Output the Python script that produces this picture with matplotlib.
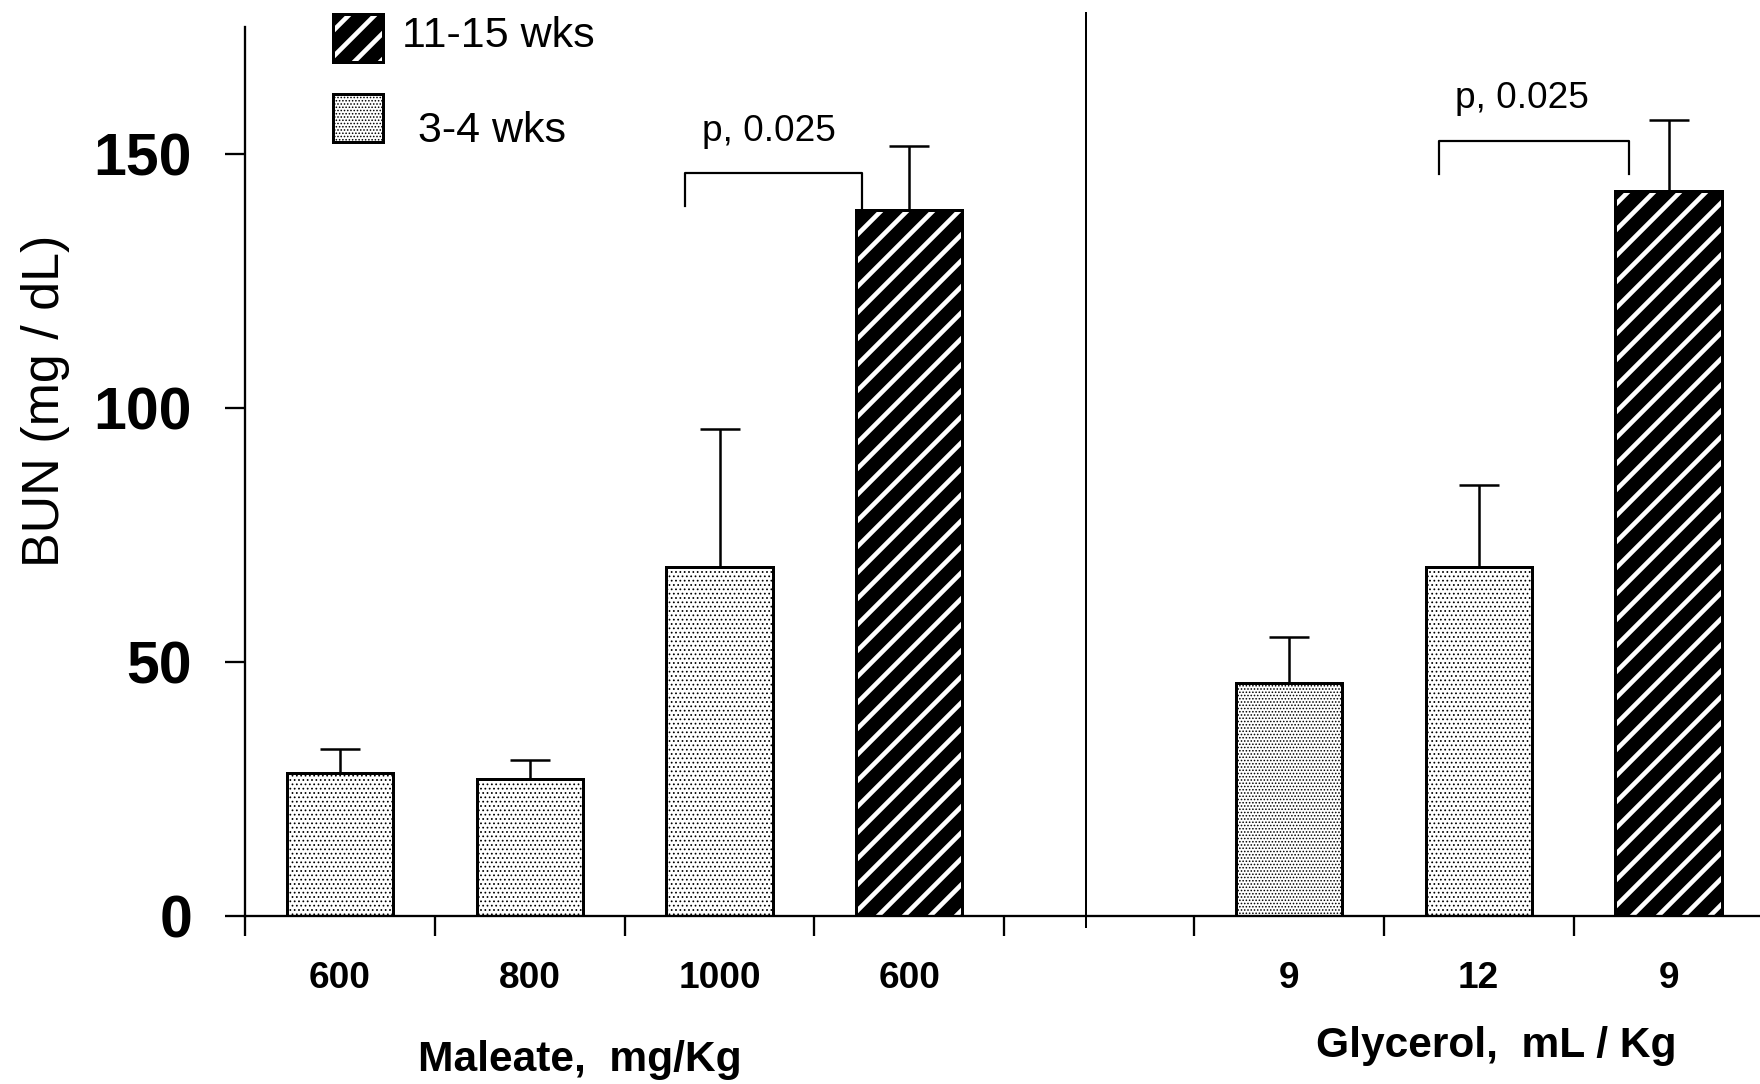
import matplotlib
matplotlib.use('Agg')
import matplotlib.pyplot as plt
import matplotlib.transforms as mtransforms
from matplotlib.patches import Rectangle
import numpy as np

plt.rcParams['font.family'] = ['Liberation Sans', 'DejaVu Sans']

DPI = 78
PX = 72 / DPI  # points per pixel

# data
maleate_doses = ['600', '800', '1000', '600']
maleate_bun = [28.1, 27.0, 68.7, 139.0]
maleate_sem = [4.8, 3.7, 27.2, 12.6]
maleate_age = ['3-4 wks', '3-4 wks', '3-4 wks', '11-15 wks']

glycerol_doses = ['9', '12', '9']
glycerol_bun = [45.8, 68.7, 142.8]
glycerol_sem = [9.2, 16.2, 13.9]
glycerol_age = ['3-4 wks', '3-4 wks', '11-15 wks']
glycerol_dense = [True, False, False]   # first glycerol bar has the tighter stipple

y_ticks = [0, 50, 100, 150]
p_label = 'p, 0.025'

BAR_W = 0.56
BAR_LW = 3 * PX
OLD = '11-15 wks'
STRIPE_LW = 4.6 * PX
DOT_LW = 1.0 * PX


def style_patch(p, age, dense=False):
    if age == OLD:
        p.set_facecolor('black')
        p.set_edgecolor('white')      # hatch takes the edge colour
        p.set_hatch('/')
        p.set_linewidth(0)
        if hasattr(p, 'set_hatch_linewidth'):
            p.set_hatch_linewidth(STRIPE_LW)
    else:
        p.set_facecolor('white')
        p.set_edgecolor('black')
        p.set_hatch('....' if dense else '...')
        p.set_linewidth(BAR_LW)
        if hasattr(p, 'set_hatch_linewidth'):
            p.set_hatch_linewidth(DOT_LW)


fig = plt.figure(figsize=(1760 / DPI, 1084 / DPI), dpi=DPI)
ax = fig.add_axes([245 / 1760, 1 - 916 / 1084, 1 - 245 / 1760, (916 - 27) / 1084])

x_m = np.arange(len(maleate_bun)) + 0.5
x_g = np.arange(len(glycerol_bun)) + 5.5
xs = np.concatenate([x_m, x_g])
vals = maleate_bun + glycerol_bun
sems = maleate_sem + glycerol_sem
ages = maleate_age + glycerol_age
dense = [False] * len(maleate_bun) + glycerol_dense

ax.errorbar(xs, vals, yerr=[np.zeros(len(vals)), sems], fmt='none', ecolor='black',
            elinewidth=2.5 * PX, capsize=20 * PX, capthick=2.5 * PX, zorder=1)

old = np.array([a == OLD for a in ages])
with plt.rc_context({'hatch.linewidth': DOT_LW}):
    bars = ax.bar(xs[~old], np.array(vals)[~old], width=BAR_W, zorder=2)
    for p, d in zip(bars.patches, np.array(dense)[~old]):
        style_patch(p, '3-4 wks', d)
with plt.rc_context({'hatch.linewidth': STRIPE_LW}):
    bars_old = ax.bar(xs[old], np.array(vals)[old], width=BAR_W, zorder=2)
    for p in bars_old.patches:
        style_patch(p, OLD)
ax.bar(xs[old], np.array(vals)[old], width=BAR_W, fill=False, edgecolor='black',
       linewidth=BAR_LW, zorder=3)

ax.set_xlim(0, 1515 / 189.8)
ax.set_ylim(0, 175)

for s in ['top', 'right']:
    ax.spines[s].set_visible(False)
for s in ['left', 'bottom']:
    ax.spines[s].set_linewidth(2.3 * PX)

ax.set_yticks(y_ticks, [str(v) for v in y_ticks], fontsize=59 * PX, fontweight='bold')
ax.tick_params(axis='y', length=20 * PX, width=2.3 * PX, pad=33 * PX)

ax.set_xticks(range(8), [''] * 8)
ax.tick_params(axis='x', which='major', length=20 * PX, width=2.3 * PX)
ax.set_xticks(xs, maleate_doses + glycerol_doses, minor=True,
              fontsize=37 * PX, fontweight='bold')
ax.tick_params(axis='x', which='minor', length=0, pad=45 * PX)

# separator between the two experiments
ax.plot([4.43, 4.43], [-2.2, 177.8], color='black', lw=2 * PX, clip_on=False, zorder=4)

# significance brackets
ax.plot([2.32, 2.32, 3.25, 3.25], [139.7, 146.3, 146.3, 139.2], color='black', lw=2.2 * PX)
ax.text(2.76, 154.4, p_label, fontsize=37 * PX, ha='center', va='center')
ax.plot([6.29, 6.29, 7.29, 7.29], [146.0, 152.5, 152.5, 146.0], color='black', lw=2.2 * PX)
ax.text(6.73, 161.0, p_label, fontsize=37 * PX, ha='center', va='center')

# legend drawn by hand
for age, y0, tx, ty in [(OLD, 168.1, 0.827, 173.2), ('3-4 wks', 152.3, 0.909, 154.5)]:
    with plt.rc_context({'hatch.linewidth': STRIPE_LW if age == OLD else DOT_LW}):
        r = Rectangle((0.464, y0), 0.263, 9.5, clip_on=False, zorder=5)
    style_patch(r, age, dense=(age != OLD))
    ax.add_patch(r)
    if age == OLD:
        ax.add_patch(Rectangle((0.464, y0), 0.263, 9.5, fill=False, edgecolor='black',
                               linewidth=BAR_LW, clip_on=False, zorder=6))
    ax.text(tx, ty, age, fontsize=43 * PX, ha='left', va='center')

# axis titles
fig.text(46 / 1760, 1 - 401 / 1084, 'BUN (mg / dL)', rotation=90, fontsize=52 * PX,
         ha='center', va='center')
trans = mtransforms.blended_transform_factory(ax.transData, fig.transFigure)
ax.text(1.765, 1 - 1060 / 1084, 'Maleate,  mg/Kg', transform=trans, fontsize=42.5 * PX,
        fontweight='bold', ha='center', va='center')
ax.text(6.59, 1 - 1046 / 1084, 'Glycerol,  mL / Kg', transform=trans, fontsize=42.5 * PX,
        fontweight='bold', ha='center', va='center')

fig.savefig('out.png', dpi=DPI)
